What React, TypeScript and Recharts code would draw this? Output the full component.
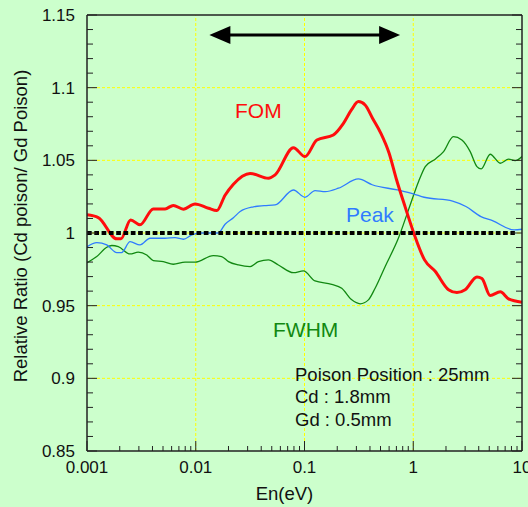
import React from 'react';
import { LineChart, Line, XAxis, YAxis, ReferenceLine } from 'recharts';

// FOM (red, thick)
const fomEnergy = [0.001, 0.00127, 0.00188, 0.00205, 0.00252, 0.00307, 0.00407, 0.00522, 0.00622, 0.00769, 0.00986, 0.0131, 0.0156, 0.0186, 0.0222, 0.0316, 0.0466, 0.0537, 0.0791, 0.101, 0.13, 0.184, 0.228, 0.27, 0.313, 0.361, 0.422, 0.504, 0.6, 0.7, 0.842, 1.025, 1.27, 1.59, 2.11, 2.52, 3.0, 3.85, 4.28, 5.1, 6.31, 7.52, 10];
const fomRatio = [1.0125, 1.0106, 0.996, 0.996, 1.009, 1.0056, 1.0166, 1.0166, 1.019, 1.0164, 1.02, 1.017, 1.0154, 1.026, 1.0336, 1.041, 1.0377, 1.04, 1.0587, 1.0526, 1.064, 1.0675, 1.0755, 1.0847, 1.0904, 1.0881, 1.079, 1.0686, 1.0549, 1.037, 1.018, 0.9987, 0.9815, 0.9737, 0.961, 0.959, 0.961, 0.9698, 0.9687, 0.957, 0.9595, 0.9547, 0.9524];

// Peak (blue)
const peakEnergy = [0.001, 0.00123, 0.00152, 0.00188, 0.00208, 0.00249, 0.00307, 0.0038, 0.00522, 0.00645, 0.00769, 0.00919, 0.011, 0.0161, 0.0186, 0.0222, 0.0256, 0.0339, 0.0425, 0.0537, 0.0791, 0.101, 0.125, 0.155, 0.205, 0.313, 0.419, 0.716, 0.998, 1.26, 2.3, 3.05, 4.19, 5.35, 8.47, 10];
const peakRatio = [0.9906, 0.9934, 0.9918, 0.9865, 0.9865, 0.994, 0.9918, 0.9964, 0.9964, 0.9968, 0.9957, 0.9987, 1.0, 1.0, 1.006, 1.0105, 1.0148, 1.018, 1.0188, 1.0193, 1.0296, 1.0246, 1.0292, 1.0285, 1.0308, 1.0372, 1.0332, 1.0296, 1.027, 1.0246, 1.022, 1.0182, 1.0113, 1.0085, 1.0021, 1.0026];

// FWHM (green)
const fwhmEnergy = [0.001, 0.00123, 0.00152, 0.00169, 0.00194, 0.00249, 0.00296, 0.00354, 0.00407, 0.00503, 0.00622, 0.00797, 0.00986, 0.0145, 0.0173, 0.02, 0.0247, 0.0316, 0.0377, 0.0466, 0.0575, 0.0791, 0.0977, 0.125, 0.178, 0.22, 0.272, 0.325, 0.387, 0.446, 0.552, 0.731, 0.904, 1.12, 1.29, 1.59, 1.9, 2.34, 2.8, 3.34, 3.85, 4.22, 5.1, 6.31, 7.52, 8.65, 10];
const fwhmRatio = [0.9796, 0.9838, 0.9902, 0.9914, 0.9906, 0.9856, 0.9868, 0.9849, 0.981, 0.9803, 0.9785, 0.9799, 0.9799, 0.9845, 0.9838, 0.9803, 0.978, 0.9769, 0.9803, 0.9815, 0.978, 0.9727, 0.9739, 0.967, 0.9647, 0.962, 0.954, 0.9513, 0.954, 0.962, 0.977, 0.9965, 1.0159, 1.0354, 1.0457, 1.0508, 1.056, 1.0663, 1.064, 1.056, 1.0457, 1.0441, 1.0542, 1.048, 1.0508, 1.0498, 1.0526];

// reference ratio 1 (black dotted)
const unityEnergy = [0.001, 8.6];
const unityRatio = [1, 1];

const xMajorTicks = [0.001, 0.01, 0.1, 1, 10];
const yMajorTicks = [0.85, 0.9, 0.95, 1, 1.05, 1.1, 1.15];
const xGrid = [0.01, 0.1, 1];
const yGrid = [0.9, 0.95, 1, 1.05, 1.1];
const arrowRange = [0.01334, 0.757];
const arrowLevel = 1.1362;

const FONT = '"Liberation Sans", Arial, Helvetica, sans-serif';
const AXIS = '#222';

const toPoints = (xs: number[], ys: number[]) => xs.map((x, i) => ({ x, y: ys[i] }));
const fomData = toPoints(fomEnergy, fomRatio);
const peakData = toPoints(peakEnergy, peakRatio);
const fwhmData = toPoints(fwhmEnergy, fwhmRatio);
const unityData = toPoints(unityEnergy, unityRatio);

// log minor ticks 1..9 per decade
const xTicks: number[] = [];
for (let i = 0; i < xMajorTicks.length - 1; i++) {
  for (let m = 1; m < 10; m++) xTicks.push(m === 1 ? xMajorTicks[i] : parseFloat((xMajorTicks[i] * m).toPrecision(3)));
}
xTicks.push(xMajorTicks[xMajorTicks.length - 1]);
const yTicks = Array.from({ length: 31 }, (_, i) => (85 + i) / 100);

const isXMajor = (v: number) => xMajorTicks.includes(v);
const isYMajor = (v: number) => Math.round(v * 100) % 5 === 0;

const BottomTick = (props: any) => {
  const { x, y, payload } = props;
  const major = isXMajor(payload.value);
  return (
    <g>
      <line x1={x} x2={x} y1={y} y2={y - (major ? 10 : 5)} stroke={AXIS} strokeWidth={1} />
      {major && (
        <text x={x} y={y + 22} textAnchor="middle" fontSize={17} fontFamily={FONT} fill="#111">
          {String(payload.value)}
        </text>
      )}
    </g>
  );
};

const TopTick = (props: any) => {
  const { x, y, payload } = props;
  const major = isXMajor(payload.value);
  return <line x1={x} x2={x} y1={y} y2={y + (major ? 10 : 5)} stroke={AXIS} strokeWidth={1} />;
};

const LeftTick = (props: any) => {
  const { x, y, payload } = props;
  const major = isYMajor(payload.value);
  return (
    <g>
      <line x1={x} x2={x + (major ? 10 : 6)} y1={y} y2={y} stroke={AXIS} strokeWidth={1} />
      {major && (
        <text x={x - 12} y={y + 6} textAnchor="end" fontSize={17} fontFamily={FONT} fill="#111">
          {String(payload.value)}
        </text>
      )}
    </g>
  );
};

const RightTick = (props: any) => {
  const { x, y, payload } = props;
  const major = isYMajor(payload.value);
  return <line x1={x} x2={x - (major ? 10 : 6)} y1={y} y2={y} stroke={AXIS} strokeWidth={1} />;
};

const ArrowShape = (p: any) => {
  const { x1, y1, x2, y2 } = p;
  const head = 21;
  const half = 9;
  return (
    <g>
      <line x1={x1 + head - 2} y1={y1} x2={x2 - head + 2} y2={y2} stroke="#000" strokeWidth={3} />
      <polygon points={`${x1},${y1} ${x1 + head},${y1 - half} ${x1 + head},${y1 + half}`} fill="#000" />
      <polygon points={`${x2},${y2} ${x2 - head},${y2 - half} ${x2 - head},${y2 + half}`} fill="#000" />
    </g>
  );
};

export default function App() {
  return (
    <div style={{ position: 'absolute', left: 0, top: 0, width: 528, height: 507, background: '#ccffcc' }}>
      <LineChart width={528} height={507} margin={{ top: 0, right: 0, bottom: 0, left: 0 }}>
        <XAxis
          xAxisId="b"
          dataKey="x"
          type="number"
          scale="log"
          domain={[0.001, 10]}
          allowDataOverflow
          ticks={xTicks}
          interval={0}
          tickSize={0}
          tickMargin={0}
          tickLine={false}
          tick={BottomTick}
          height={56}
          axisLine={{ stroke: AXIS, strokeWidth: 1.5 }}
        />
        <XAxis
          xAxisId="t"
          orientation="top"
          type="number"
          scale="log"
          domain={[0.001, 10]}
          allowDataOverflow
          ticks={xTicks}
          interval={0}
          tickSize={0}
          tickMargin={0}
          tickLine={false}
          tick={TopTick}
          height={15}
          axisLine={{ stroke: AXIS, strokeWidth: 1.5 }}
        />
        <YAxis
          yAxisId="l"
          type="number"
          domain={[0.85, 1.15]}
          allowDataOverflow
          ticks={yTicks}
          interval={0}
          tickSize={0}
          tickMargin={0}
          tickLine={false}
          tick={LeftTick}
          width={87}
          axisLine={{ stroke: AXIS, strokeWidth: 1.5 }}
        />
        <YAxis
          yAxisId="r"
          orientation="right"
          type="number"
          domain={[0.85, 1.15]}
          allowDataOverflow
          ticks={yTicks}
          interval={0}
          tickSize={0}
          tickMargin={0}
          tickLine={false}
          tick={RightTick}
          width={6}
          axisLine={{ stroke: AXIS, strokeWidth: 1.5 }}
        />
        {yGrid.map((v) => (
          <ReferenceLine key={`gy${v}`} xAxisId="b" yAxisId="l" y={v} stroke="#ffff00" strokeDasharray="3 2" />
        ))}
        {xGrid.map((v) => (
          <ReferenceLine key={`gx${v}`} xAxisId="b" yAxisId="l" x={v} stroke="#ffff00" strokeDasharray="3 2" />
        ))}
        <Line xAxisId="b" yAxisId="l" data={fwhmData} dataKey="y" type="monotone" stroke="#118811" strokeWidth={1.3} dot={false} isAnimationActive={false} />
        <Line xAxisId="b" yAxisId="l" data={peakData} dataKey="y" type="monotone" stroke="#2f7bff" strokeWidth={1.3} dot={false} isAnimationActive={false} />
        <Line xAxisId="b" yAxisId="l" data={fomData} dataKey="y" type="monotone" stroke="#ff0d0d" strokeWidth={3} dot={false} isAnimationActive={false} />
        <Line xAxisId="b" yAxisId="l" data={unityData} dataKey="y" type="linear" stroke="#000" strokeWidth={4} strokeDasharray="4.7 2.6" dot={false} isAnimationActive={false} />
        <ReferenceLine
          xAxisId="b"
          yAxisId="l"
          segment={[{ x: arrowRange[0], y: arrowLevel }, { x: arrowRange[1], y: arrowLevel }]}
          shape={ArrowShape}
        />
      </LineChart>
      <svg width={528} height={507} style={{ position: 'absolute', left: 0, top: 0, pointerEvents: 'none' }} fontFamily={FONT}>
        <text x={235} y={118} fontSize={21} fill="#ff0d0d">FOM</text>
        <text x={346} y={221.5} fontSize={21} fill="#2f7bff">Peak</text>
        <text x={273} y={337} fontSize={21} fill="#118811">FWHM</text>
        <text x={295} y={380.5} fontSize={18.5} fill="#111">Poison Position : 25mm</text>
        <text x={295} y={402.5} fontSize={18.5} fill="#111">Cd : 1.8mm</text>
        <text x={295} y={425.5} fontSize={18.5} fill="#111">Gd : 0.5mm</text>
        <text x={284.5} y={500} fontSize={18.5} fill="#111" textAnchor="middle">En(eV)</text>
        <text x={27} y={226} fontSize={18.5} fill="#111" textAnchor="middle" transform="rotate(-90 27 226)">
          Relative Ratio (Cd poison/ Gd Poison)
        </text>
      </svg>
    </div>
  );
}
